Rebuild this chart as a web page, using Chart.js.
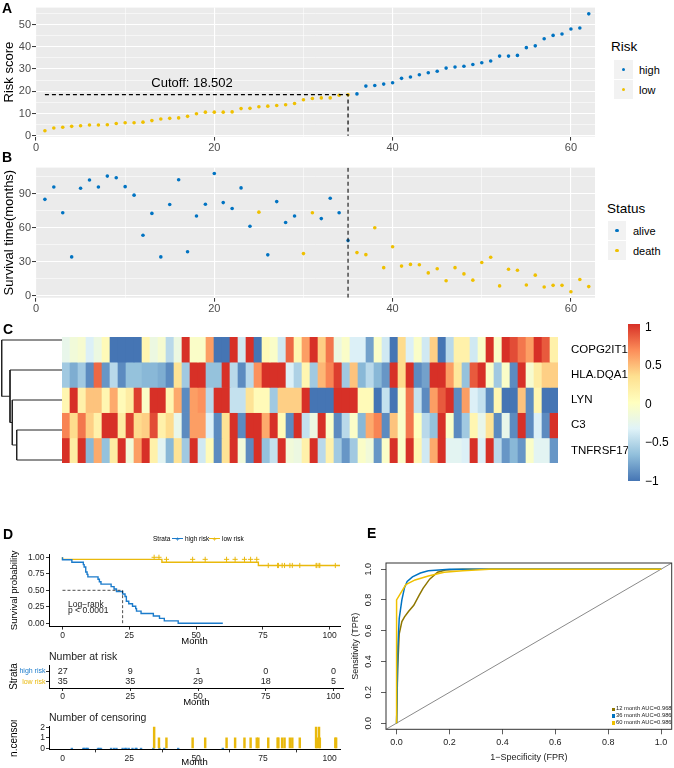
<!DOCTYPE html>
<html>
<head>
<meta charset="utf-8">
<script src="https://cdn.jsdelivr.net/npm/chart.js@4.4.1/dist/chart.umd.min.js"></script>
<style>
  body { margin: 0; width: 674px; height: 768px; position: relative; overflow: hidden; background: #fff;
         font-family: 'Liberation Sans', Arial, sans-serif; }
  canvas, .t, .key { position: absolute; }
  .t { white-space: nowrap; line-height: 1; }
</style>
</head>
<body>
<canvas id="cA" width="600" height="155" style="left:0;top:0"></canvas>
<canvas id="cB" width="600" height="160" style="left:0;top:160px"></canvas>
<canvas id="cDen" width="62" height="150" style="left:0;top:325px"></canvas>
<canvas id="cHeat" width="570" height="150" style="left:62px;top:325px"></canvas>
<canvas id="cKM" width="345" height="108" style="left:0;top:540px"></canvas>
<canvas id="cRisk" width="345" height="48" style="left:0;top:660px"></canvas>
<canvas id="cCens" width="345" height="48" style="left:0;top:720px"></canvas>
<canvas id="cROC" width="334" height="228" style="left:340px;top:540px"></canvas>
<script>
// ---- data ----
const cutoff = 18.502;
const cutoffIndex = 35;

// A: risk score per patient, sorted
const riskScore = [2.2, 3.5, 3.8, 4.2, 4.5, 4.8, 4.8, 4.9, 5.5, 5.8, 5.8, 6.1, 6.8, 7.5, 7.8, 8.0, 8.7, 9.9,
  10.6, 10.6, 10.6, 10.7, 12.2, 12.3, 13.0, 13.3, 13.6, 13.9, 14.5, 16.2, 16.7, 17.0, 17.0, 18.2, 18.45,
  18.8, 22.3, 22.6, 23.2, 23.8, 25.8, 26.4, 27.4, 28.3, 29.0, 30.4, 30.9, 31.2, 32.0, 32.8, 33.6, 35.8,
  35.8, 36.1, 39.6, 40.4, 43.6, 45.1, 45.7, 48.0, 48.4, 54.8];

// B: survival time (months) and status (1 = death)
const survTime = [85.1, 96.0, 73.3, 34.3, 94.9, 102.1, 96.0, 105.6, 104.1, 96.3, 88.8, 53.4, 72.7, 34.3,
  80.5, 102.4, 38.9, 70.4, 80.8, 107.9, 82.2, 77.0, 95.2, 61.4, 73.8, 36.1, 83.1, 64.6, 70.4, 37.2, 73.3,
  68.1, 86.0, 73.3, 48.7, 38.1, 36.3, 60.0, 24.8, 43.3, 26.2, 27.7, 27.4, 20.2, 23.9, 13.3, 24.8, 19.3,
  13.8, 29.4, 34.0, 8.7, 23.4, 22.5, 9.5, 18.2, 7.8, 9.2, 9.2, 3.5, 14.4, 8.1];
const status = [0, 0, 0, 0, 0, 0, 0, 0, 0, 0, 0, 0, 0, 0, 0, 0, 0, 0, 0, 0, 0, 0, 0, 0, 1, 0, 0, 0, 0, 1,
  1, 0, 0, 0, 0, 1, 1, 1, 1, 1, 1, 1, 1, 1, 1, 1, 1, 1, 1, 1, 1, 1, 1, 1, 1, 1, 1, 1, 1, 1, 1, 1];

// C: scaled expression, one row per gene
const geneNames = ['COPG2IT1', 'HLA.DQA1', 'LYN', 'C3', 'TNFRSF17'];
const copg2it1 = [-0.25, -0.15, -0.1, -0.35, -0.2, 0.05, -1, -1, -1, -1, 0.1, -0.2, -0.1, -0.5, -0.2, 1, -0.05,
  -0.05, 0.6, -1, -1, 1, -0.4, 1, -1, 0.05, -0.05, -0.4, 0.8, 0.1, 0.6, 1, 0.4, 0.75, -0.2, -0.05, -0.35,
  -0.35, -0.8, -0.05, -0.4, -1, 0.35, -0.35, -0.05, -0.4, 0.4, -1, -0.5, 0.15, 0.15, -0.4, -0.05, 1, -0.05,
  1, 0.9, 0.75, 0.6, 1, 0.85, 0.15];
const hladqa1 = [-0.6, -0.75, -0.6, -0.9, 0.8, -0.85, -0.5, -0.9, -0.65, -0.65, -0.7, -0.7, -0.75, -0.9, 0.3,
  -0.6, 1, 1, -0.65, -0.65, 1, -0.5, -0.9, -0.5, 0.65, 1, 1, 1, -0.35, -0.55, 0.1, -0.6, 0.5, 0.7, 0.95,
  -0.6, 0.45, -0.7, -0.5, -0.7, -0.85, 1, 0.35, 1, -0.9, -0.8, 1, 1, 0.6, 0.25, -0.65, 0.85, 1, -0.05,
  -0.6, -0.05, -0.9, 1, -0.1, 0.2, 0.4, 0.4];
const lyn = [0.1, 1, 0.15, 0.45, 0.45, 0.1, 0.55, 0.05, 0.2, 0.95, -0.05, 1, 1, 0.1, 0.55, -0.9, 0.6, 0.65,
  -0.5, 1, 1, -0.45, -0.45, 0.3, 0.05, 0.05, -0.6, 0.4, 0.4, 0.4, 1, -1, -1, -1, 1, 1, 1, 0.05, 0.05, -1,
  -0.45, -1, -0.05, 0.75, -0.45, -0.9, 0.6, 0.85, 1, -0.9, 0.6, -0.35, -0.45, -0.9, 0.1, -1, -1, 0.45,
  -0.9, 0.1, -1, -1];
const c3 = [0.7, 0.35, 0.75, 0.4, 0.15, 1, 1, 0.2, 0.95, 0.35, 0.4, 0.9, 0.15, 0.35, -0.25, -0.9, 0.6, 0.6,
  -0.35, -0.9, 0.3, 1, -0.9, 1, 1, 0.55, 1, 0.05, -0.9, 1, -0.45, -0.2, 1, -0.05, -0.9, -0.5, -0.05, -0.7,
  0.55, 0.7, -0.9, 0.45, -0.05, 0.75, 0.0, -0.5, -0.65, 1, -0.05, -0.9, -0.6, 0.1, -0.25, 0.3, -0.9, -0.25,
  -0.9, 1, -0.9, -0.35, -0.9, 1];
const tnfrsf17 = [1, 0.2, 1, -0.7, 0.55, -0.65, 0.2, 1, -0.15, 0.6, 1, 0.15, -0.3, -0.7, 0.3, -0.6, 1, -0.4,
  0.05, -0.9, 0.3, 1, -0.15, -0.9, 1, -0.65, -0.45, 1, -0.15, -0.2, 0.15, 1, -0.5, 0.15, -0.6, -0.85, -0.6,
  -0.05, -0.15, -0.85, -0.05, 1, -0.05, 1, 0.1, -0.4, 0.55, 1, -0.3, -0.3, -0.35, 1, -0.35, 1, -0.5, -0.85,
  -0.7, -0.85, -0.05, -0.3, -0.3, -0.85];
const heatRows = [copg2it1, hladqa1, lyn, c3, tnfrsf17];
// row clustering (hclust style: negative = gene row, positive = earlier merge)
const dendroMerges = [[-4, -5], [-3, 1], [-2, 2], [-1, 3]];
const dendroHeights = [45.3, 49.7, 52.0, 60.3];

// D: Kaplan-Meier steps
const kmHighT = [0, 3.5, 7.8, 8.1, 8.7, 9.2, 9.5, 13.3, 13.8, 14.4, 18.2, 19.3, 20.2, 22.5, 23.4, 23.9, 24.8,
  26.2, 27.4, 27.7, 29.4, 34.0, 36.3, 38.1, 43.3, 60.0];
const kmHighS = [1, 0.963, 0.926, 0.889, 0.852, 0.778, 0.741, 0.704, 0.667, 0.630, 0.593, 0.556, 0.519,
  0.481, 0.444, 0.407, 0.333, 0.296, 0.259, 0.222, 0.185, 0.148, 0.111, 0.074, 0.037, 0.0];
const kmLowT = [0, 37.2, 73.3, 73.8, 107.9];
const kmLowS = [1, 0.969, 0.925, 0.876, 0.876];
const censLowT = [34.3, 36.1, 38.9, 48.7, 53.4, 61.4, 64.6, 68.1, 70.4, 72.7, 77.0, 80.5, 80.8, 82.2, 83.1,
  85.1, 86.0, 88.8, 94.9, 95.2, 96.0, 96.3, 102.1];
const censLowS = [1, 1, 0.969, 0.969, 0.969, 0.969, 0.969, 0.969, 0.969, 0.969, 0.876, 0.876, 0.876, 0.876,
  0.876, 0.876, 0.876, 0.876, 0.876, 0.876, 0.876, 0.876, 0.876];
const medianHigh = 22.5;
const riskMonths = [0, 25, 50, 75, 100];
const atRiskHigh = [27, 9, 1, 0, 0];
const atRiskLow = [35, 35, 29, 18, 5];
const censorT = [34.3, 36.1, 38.9, 48.7, 53.4, 61.4, 64.6, 68.1, 70.4, 72.7, 73.3, 77.0, 80.5, 80.8, 82.2,
  83.1, 85.1, 86.0, 88.8, 94.9, 95.2, 96.0, 96.3, 102.1, 102.4];
const censorN = [2, 1, 1, 1, 1, 1, 1, 1, 1, 1, 1, 1, 1, 1, 1, 1, 1, 1, 1, 2, 1, 2, 1, 1, 1];

// E: time-dependent ROC
const fpr12 = [0, 0.004, 0.01, 0.02, 0.03, 0.045, 0.065, 0.085, 0.1, 0.125, 0.155, 0.185, 0.25, 1];
const tpr12 = [0, 0.35, 0.58, 0.66, 0.69, 0.725, 0.765, 0.83, 0.875, 0.935, 0.98, 0.995, 1, 1];
const fpr36 = [0, 0.005, 0.01, 0.02, 0.03, 0.04, 0.06, 0.09, 0.12, 0.16, 0.2, 1];
const tpr36 = [0, 0.5, 0.68, 0.8, 0.88, 0.92, 0.95, 0.975, 0.99, 0.995, 1, 1];
const fpr60 = [0, 0, 0.035, 0.07, 0.12, 0.18, 0.25, 0.35, 1];
const tpr60 = [0, 0.8, 0.9, 0.93, 0.955, 0.98, 0.99, 1, 1];
const rocLabels = ['12 month AUC=0.968', '36 month AUC=0.986', '60 month AUC=0.986'];

// ---- style ----
const FONT = "'Liberation Sans', Arial, sans-serif";
const BLUE = '#0073C2', YELLOW = '#EFC000', OLIVE = '#8F7700';
const KM_BLUE = '#1B7BCB', KM_YELLOW = '#E9B90C';
Chart.defaults.font.family = FONT;
Chart.defaults.animation = false;
Chart.defaults.responsive = false;
Chart.defaults.devicePixelRatio = 1;
Chart.defaults.events = [];
Chart.defaults.plugins.legend.display = false;
Chart.defaults.plugins.tooltip.enabled = false;

function txt(s, x, y, o = {}) {
  const d = document.createElement('div');
  d.className = 't';
  d.textContent = s;
  d.style.fontSize = (o.size || 11) + 'px';
  d.style.left = x + 'px';
  d.style.top = y + 'px';
  d.style.color = o.color || '#000';
  if (o.bold) d.style.fontWeight = 'bold';
  const ax = o.align === 'center' ? '-50%' : o.align === 'right' ? '-100%' : '0';
  d.style.transform = `translate(${ax},-50%)`;
  document.body.appendChild(d);
  return d;
}
function box(x, y, w, h, bg) {
  const d = document.createElement('div');
  d.className = 'key';
  Object.assign(d.style, { left: x + 'px', top: y + 'px', width: w + 'px', height: h + 'px', background: bg });
  document.body.appendChild(d);
  return d;
}
function dotKey(x, y, w, h, color) {
  box(x, y, w, h, '#F2F2F2');
  const d = box(x + w / 2 - 1.8, y + h / 2 - 1.8, 3.6, 3.6, color);
  d.style.borderRadius = '50%';
}

const fixedTicks = vals => s => { s.ticks = vals.map(v => ({ value: v })); };

const greyPanel = {
  id: 'greyPanel',
  beforeDraw(chart) {
    const { ctx, chartArea: a } = chart;
    ctx.save();
    ctx.fillStyle = '#EBEBEB';
    ctx.fillRect(a.left, a.top, a.width, a.height);
    ctx.restore();
  }
};

// ggplot2 theme_grey-like axis
function ggScale(o) {
  const major = v => Math.abs(v % o.every) < 1e-9;
  return {
    type: 'linear', min: o.min, max: o.max,
    afterBuildTicks: fixedTicks(o.ticks),
    afterFit: o.fit,
    border: { display: false },
    grid: {
      color: '#FFFFFF',
      lineWidth: c => (c.tick && major(c.tick.value)) ? 1.1 : 0.55,
      tickColor: c => (c.tick && major(c.tick.value)) ? '#333333' : 'rgba(0,0,0,0)',
      tickLength: 4, tickWidth: 1
    },
    ticks: { color: '#4D4D4D', font: { size: 11 }, padding: 1, autoSkip: false,
             callback: v => major(v) ? String(v) : '' },
    title: o.title ? { display: true, text: o.title, color: '#000', font: { size: 13 }, padding: { top: 2, bottom: 0 } }
                   : { display: false }
  };
}

const patient = riskScore.map((_, i) => i + 1);

// ---- A: risk score ----
const cutoffText = {
  id: 'cutoffText',
  afterDatasetsDraw(chart) {
    const { ctx, scales: { x, y } } = chart;
    ctx.save();
    ctx.font = `13px ${FONT}`;
    ctx.fillStyle = '#000';
    ctx.textAlign = 'center';
    ctx.textBaseline = 'middle';
    ctx.fillText('Cutoff: ' + cutoff, x.getPixelForValue(cutoffIndex / 2), y.getPixelForValue(cutoff + 5));
    ctx.restore();
  }
};
new Chart(document.getElementById('cA'), {
  type: 'scatter',
  data: {
    datasets: [
      { type: 'line', data: [{ x: 1, y: cutoff }, { x: cutoffIndex, y: cutoff }, { x: cutoffIndex, y: 0 }],
        borderColor: '#000', borderWidth: 1.2, borderDash: [4, 3], pointRadius: 0, fill: false },
      { data: patient.filter((p, i) => riskScore[i] > cutoff).map(p => ({ x: p, y: riskScore[p - 1] })),
        backgroundColor: BLUE, pointRadius: 1.8, borderWidth: 0 },
      { data: patient.filter((p, i) => riskScore[i] <= cutoff).map(p => ({ x: p, y: riskScore[p - 1] })),
        backgroundColor: YELLOW, pointRadius: 1.8, borderWidth: 0 }
    ]
  },
  options: {
    layout: { padding: { top: 3.3, right: 5, left: 0, bottom: 0 } },
    scales: {
      x: ggScale({ min: 0, max: 62.7, ticks: [0, 10, 20, 30, 40, 50, 60], every: 20, fit: s => { s.height = 18.4; } }),
      y: ggScale({ min: -0.4, max: 57.6, ticks: [0, 5, 10, 15, 20, 25, 30, 35, 40, 45, 50, 55], every: 10,
                   title: 'Risk score', fit: s => { s.width = 36; } })
    }
  },
  plugins: [greyPanel, cutoffText]
});

// ---- B: survival time / status ----
new Chart(document.getElementById('cB'), {
  type: 'scatter',
  data: {
    datasets: [
      { type: 'line', data: [{ x: cutoffIndex, y: -1.7 }, { x: cutoffIndex, y: 113.1 }],
        borderColor: '#222', borderWidth: 1.2, borderDash: [4, 3], pointRadius: 0, fill: false },
      { data: patient.filter((p, i) => status[i] === 0).map(p => ({ x: p, y: survTime[p - 1] })),
        backgroundColor: BLUE, pointRadius: 1.8, borderWidth: 0 },
      { data: patient.filter((p, i) => status[i] === 1).map(p => ({ x: p, y: survTime[p - 1] })),
        backgroundColor: YELLOW, pointRadius: 1.8, borderWidth: 0 }
    ]
  },
  options: {
    layout: { padding: { top: 5, right: 5, left: 0, bottom: 0 } },
    scales: {
      x: ggScale({ min: 0, max: 62.7, ticks: [0, 10, 20, 30, 40, 50, 60], every: 20, fit: s => { s.height = 22.3; } }),
      y: ggScale({ min: -1.7, max: 113.1, ticks: [0, 15, 30, 45, 60, 75, 90, 105], every: 30,
                   title: 'Survival time(months)', fit: s => { s.width = 36; } })
    }
  },
  plugins: [greyPanel]
});

// legends A / B
txt('Risk', 611, 47, { size: 13.5 });
dotKey(614, 60, 19, 19, BLUE);
dotKey(614, 80, 19, 19, YELLOW);
txt('high', 639, 70, { size: 11 });
txt('low', 639, 90, { size: 11 });
txt('Status', 607, 209, { size: 13.5 });
dotKey(608, 221, 18, 19, BLUE);
dotKey(608, 241, 18, 19, YELLOW);
txt('alive', 633, 230.5, { size: 11 });
txt('death', 633, 251, { size: 11 });

// ---- C: heatmap ----
const heatPalette = ['#4575B4', '#91BFDB', '#E0F3F8', '#FFFFBF', '#FEE090', '#FC8D59', '#D73027'];
function hexRgb(h) { return [1, 3, 5].map(i => parseInt(h.slice(i, i + 2), 16)); }
function heatColor(v) {
  const p = (Math.max(-1, Math.min(1, v)) + 1) / 2 * 6;
  const i = Math.min(5, Math.floor(p)), f = p - i;
  const a = hexRgb(heatPalette[i]), b = hexRgb(heatPalette[i + 1]);
  return `rgb(${a.map((c, k) => Math.round(c + (b[k] - c) * f)).join(',')})`;
}
new Chart(document.getElementById('cHeat'), {
  type: 'bar',
  data: {
    labels: patient,
    datasets: heatRows.map((row, r) => ({
      data: row.map(() => [4 - r, 5 - r]),
      backgroundColor: row.map(heatColor),
      borderWidth: 0, grouped: false, barPercentage: 1, categoryPercentage: 1
    }))
  },
  options: {
    layout: { padding: 0 },
    scales: {
      x: { display: false },
      y: {
        type: 'linear', position: 'right', min: 0, max: 5,
        afterBuildTicks: fixedTicks([0.5, 1.5, 2.5, 3.5, 4.5]),
        afterFit: s => { s.width = 74; },
        grid: { display: false }, border: { display: false },
        ticks: { padding: 5, color: '#000', font: { size: 11.5 }, callback: v => geneNames[Math.round(4.5 - v)] }
      }
    }
  }
});

// dendrogram
const leafY = r => 5 - r + 0.5;
const dendroNodes = [];
const dendroSegs = [];
dendroMerges.forEach((m, k) => {
  const H = dendroHeights[k];
  const kids = m.map(c => c < 0 ? { y: leafY(-c), h: 0 } : dendroNodes[c - 1]);
  kids.forEach(c => dendroSegs.push([{ x: c.h, y: c.y }, { x: H, y: c.y }]));
  dendroSegs.push([{ x: H, y: kids[0].y }, { x: H, y: kids[1].y }]);
  dendroNodes.push({ y: (kids[0].y + kids[1].y) / 2, h: H });
});
new Chart(document.getElementById('cDen'), {
  type: 'scatter',
  data: { datasets: dendroSegs.map(seg => ({ data: seg, showLine: true, borderColor: '#222', borderWidth: 1,
                                             pointRadius: 0, clip: false })) },
  options: {
    layout: { padding: 0 },
    scales: {
      x: { type: 'linear', display: false, min: 0, max: 62, reverse: true },
      y: { type: 'linear', display: false, min: 0, max: 5 }
    }
  }
});
// colour key
box(628, 324, 12, 157, 'linear-gradient(to bottom,' + heatPalette.slice().reverse().join(',') + ')');
txt('1', 645, 327, { size: 12 });
txt('0.5', 645, 365, { size: 12 });
txt('0', 645, 403.5, { size: 12 });
txt('\u22120.5', 645, 442, { size: 12 });
txt('\u22121', 645, 481, { size: 12 });

// ---- D: Kaplan-Meier ----
function classicScale(o) {
  return {
    type: 'linear', min: o.min, max: o.max, reverse: !!o.reverse,
    afterBuildTicks: fixedTicks(o.ticks),
    afterFit: o.fit,
    border: { display: true, color: '#000', width: 1 },
    grid: { drawOnChartArea: false, color: '#000', tickLength: 3, tickWidth: 0.8 },
    ticks: { color: o.tickColor || '#222', font: { size: o.tickSize || 8.5 }, padding: o.pad || 1, autoSkip: false,
             callback: o.fmt || (v => String(v)) },
    title: o.title ? { display: true, text: o.title, color: '#000', font: { size: o.titleSize || 9.5 },
                       padding: o.titlePad } : { display: false }
  };
}
const monthAxis = (h, pad) => classicScale({ min: -5.05, max: 103.85, ticks: riskMonths, title: 'Month',
  titlePad: { top: 0, bottom: pad }, fit: s => { s.height = h; } });

new Chart(document.getElementById('cKM'), {
  type: 'scatter',
  data: {
    datasets: [
      { type: 'line', data: [{ x: 0, y: 0.5 }, { x: medianHigh, y: 0.5 }, { x: medianHigh, y: 0 }],
        borderColor: '#000', borderWidth: 0.7, borderDash: [3, 2], pointRadius: 0, fill: false },
      { type: 'line', stepped: 'after', data: kmHighT.map((t, i) => ({ x: t, y: kmHighS[i] })),
        borderColor: KM_BLUE, borderWidth: 1.4, pointRadius: 0, fill: false },
      { type: 'line', stepped: 'after', data: kmLowT.map((t, i) => ({ x: t, y: kmLowS[i] })),
        borderColor: KM_YELLOW, borderWidth: 1.4, pointRadius: 0, fill: false },
      { data: censLowT.map((t, i) => ({ x: t, y: censLowS[i] })), pointStyle: 'cross', pointRadius: 2.6,
        borderColor: KM_YELLOW, borderWidth: 1 }
    ]
  },
  options: {
    layout: { padding: { top: 14, right: 1.2, left: 0, bottom: 0 } },
    scales: {
      x: monthAxis(21.4, 1.3),
      y: classicScale({ min: -0.05, max: 1.05, ticks: [0, 0.25, 0.5, 0.75, 1], fmt: v => v.toFixed(2),
                        title: 'Survival probability', titlePad: { top: 8.3, bottom: 0 }, pad: 1.5,
                        fit: s => { s.width = 49; } })
    }
  }
});
// legend on top
txt('Strata', 153, 538.5, { size: 6.5 });
box(172, 538, 11, 1.3, KM_BLUE);
txt('+', 177.5, 538.5, { size: 7, color: KM_BLUE, align: 'center' });
txt('high risk', 185, 538.5, { size: 6.5 });
box(209, 538, 11, 1.3, KM_YELLOW);
txt('+', 214.5, 538.5, { size: 7, color: KM_YELLOW, align: 'center' });
txt('low risk', 222, 538.5, { size: 6.5 });
txt('Log\u2212rank', 68, 603.7, { size: 8.5, color: '#222' });
txt('p < 0.0001', 68, 610, { size: 8.5, color: '#222' });

// number at risk table
const riskNumbers = {
  id: 'riskNumbers',
  afterDatasetsDraw(chart) {
    const { ctx, scales: { x, y } } = chart;
    ctx.save();
    ctx.font = `9px ${FONT}`;
    ctx.fillStyle = '#222';
    ctx.textAlign = 'center';
    ctx.textBaseline = 'middle';
    riskMonths.forEach((m, i) => {
      ctx.fillText(String(atRiskHigh[i]), x.getPixelForValue(m), y.getPixelForValue(1));
      ctx.fillText(String(atRiskLow[i]), x.getPixelForValue(m), y.getPixelForValue(2));
    });
    ctx.restore();
  }
};
txt('Number at risk', 49, 656, { size: 10.5, color: '#222' });
new Chart(document.getElementById('cRisk'), {
  type: 'scatter',
  data: { datasets: [] },
  options: {
    layout: { padding: { top: 5, right: 1.2, left: 0, bottom: 0 } },
    scales: {
      x: monthAxis(20, 0),
      y: classicScale({ min: 0.45, max: 2.55, reverse: true, ticks: [1, 2], pad: 0.5, tickSize: 7,
                        fmt: v => v === 1 ? 'high risk' : 'low risk',
                        tickColor: c => c.tick.value === 1 ? KM_BLUE : KM_YELLOW,
                        title: 'Strata', titleSize: 10, titlePad: { top: 8, bottom: 0 },
                        fit: s => { s.width = 49; } })
    }
  },
  plugins: [riskNumbers]
});

// number of censoring
txt('Number of censoring', 49, 717, { size: 10.5, color: '#222' });
new Chart(document.getElementById('cCens'), {
  type: 'bar',
  data: {
    datasets: [
      { data: censorT.map((t, i) => ({ x: t, y: censorN[i] })), backgroundColor: KM_YELLOW,
        barThickness: 1.8, borderWidth: 0 },
      { type: 'scatter', data: kmHighT.slice(1).map(t => ({ x: t, y: 0 })), pointStyle: 'line',
        pointRadius: 1.2, borderColor: KM_BLUE, borderWidth: 1 }
    ]
  },
  options: {
    layout: { padding: { top: 6, right: 1.2, left: 0, bottom: 0 } },
    scales: {
      x: Object.assign(monthAxis(18.6, 0), { offset: false }),
      y: classicScale({ min: -0.1, max: 2.1, ticks: [0, 1, 2], title: 'n.censor', titleSize: 10,
                        titlePad: { top: 8, bottom: 0 }, fit: s => { s.width = 49; } })
    }
  }
});

// ---- E: ROC ----
const boxFrame = {
  id: 'boxFrame',
  afterDraw(chart) {
    const { ctx, chartArea: a } = chart;
    ctx.save();
    ctx.strokeStyle = '#333';
    ctx.lineWidth = 1;
    ctx.strokeRect(a.left, a.top, a.width, a.height);
    ctx.restore();
  }
};
function rScale(o) {
  return {
    type: 'linear', min: -0.04, max: 1.04,
    afterBuildTicks: fixedTicks([0, 0.2, 0.4, 0.6, 0.8, 1]),
    afterFit: o.fit,
    border: { display: false },
    grid: { drawOnChartArea: false, color: '#333', tickLength: 5, tickWidth: 0.8 },
    ticks: Object.assign({ color: '#222', font: { size: 9 }, padding: o.pad, autoSkip: false,
                           callback: v => v.toFixed(1) }, o.ticks || {}),
    title: { display: true, text: o.title, color: '#222', font: { size: 9 }, padding: o.titlePad }
  };
}
const rocLine = (fx, ty, color) => ({
  data: fx.map((f, i) => ({ x: f, y: ty[i] })), showLine: true, borderColor: color, borderWidth: 1.5,
  pointRadius: 0, tension: 0
});
new Chart(document.getElementById('cROC'), {
  type: 'scatter',
  data: {
    datasets: [
      rocLine(fpr60, tpr60, YELLOW),
      rocLine(fpr36, tpr36, BLUE),
      rocLine(fpr12, tpr12, OLIVE),
      { data: [{ x: -0.04, y: -0.04 }, { x: 1.04, y: 1.04 }], showLine: true, borderColor: '#8A8A8A',
        borderWidth: 1, pointRadius: 0 }
    ]
  },
  options: {
    layout: { padding: { top: 23, right: 2.3, left: 0, bottom: 0 } },
    scales: {
      x: rScale({ title: '1\u2212Specificity (FPR)', pad: 3, titlePad: { top: 0, bottom: 5.3 },
                  fit: s => { s.height = 38.7; } }),
      y: rScale({ title: 'Sensitivity (TPR)', pad: 6, titlePad: { top: 10.6, bottom: 0 },
                  ticks: { minRotation: 90, maxRotation: 90, crossAlign: 'center' },
                  fit: s => { s.width = 46; } })
    }
  },
  plugins: [boxFrame]
});
[OLIVE, BLUE, YELLOW].forEach((c, i) => {
  const y = 709.3 + i * 6.9;
  box(611.5, y - 1.8, 3.6, 3.6, c);
  txt(rocLabels[i], 616, y, { size: 5.8, color: '#222' });
});

// panel letters
txt('A', 2, 7.5, { size: 14, bold: true });
txt('B', 2, 157, { size: 14, bold: true });
txt('C', 3, 328.5, { size: 14, bold: true });
txt('D', 3, 534, { size: 14, bold: true });
txt('E', 367, 533, { size: 14, bold: true });
</script>
</body>
</html>
